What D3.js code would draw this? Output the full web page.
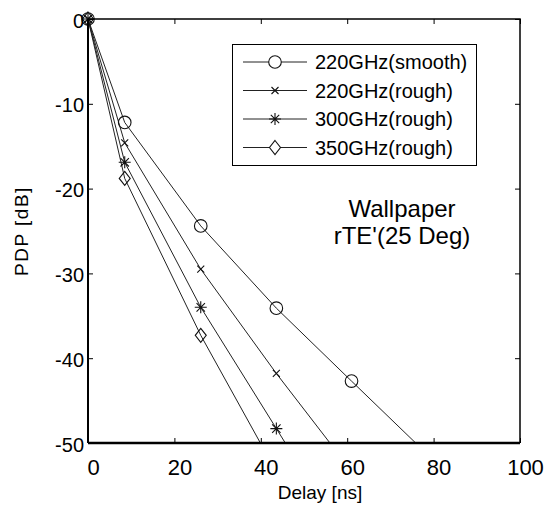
<!DOCTYPE html>
<html>
<head>
<meta charset="utf-8">
<script src="https://cdn.jsdelivr.net/npm/d3@7"></script>
<style>
  body { margin: 0; background: #fff; }
  text { font-family: "Liberation Sans", Arial, sans-serif; fill: #000; }
</style>
</head>
<body>
<script>
// delay [ns] of each sample, shared by all series
var delays = [0, 8.5, 26.1, 43.6, 61.0, 78.5];

// PDP [dB] per series (the last samples fall below -50 and get clipped)
var smooth220 = [0, -12.2, -24.4, -34.1, -42.7, -51.3];
var rough220 = [0, -14.6, -29.5, -41.8, -53.3, -64.8];
var rough300 = [0, -16.9, -34.0, -48.3, -62.6, -76.9];
var rough350 = [0, -18.8, -37.3, -53.4, -69.5, -85.6];

var seriesNames = ["220GHz(smooth)", "220GHz(rough)", "300GHz(rough)", "350GHz(rough)"];
var seriesMarkers = ["circle", "x", "star", "diamond"];
var xTicks = [0, 20, 40, 60, 80, 100];
var yTicks = [0, -10, -20, -30, -40, -50];

let w = 554;
let h = 507;
let m = {left: 88, right: 34, top: 19, bottom: 64};

let svg = d3.select("body")
    .append("svg")
    .attr("width", w)
    .attr("height", h);

let x = d3.scaleLinear().domain([0, 100]).range([m.left, w - m.right]);
let y = d3.scaleLinear().domain([-50, 0]).range([h - m.bottom, m.top]);

svg.append("clipPath").attr("id", "plot")
    .append("rect")
    .attr("x", x(0)).attr("y", y(0))
    .attr("width", x(100) - x(0)).attr("height", y(-50) - y(0));

// marker shapes, drawn as paths around (0,0)
function markerPath(kind) {
    if (kind == "circle") return d3.arc()({innerRadius: 0, outerRadius: 6.3, startAngle: 0, endAngle: 2 * Math.PI});
    if (kind == "x") return "M-3.5,-3.5L3.5,3.5M-3.5,3.5L3.5,-3.5";
    if (kind == "star") return "M-6,0L6,0M0,-6L0,6M-4.2,-4.2L4.2,4.2M-4.2,4.2L4.2,-4.2";
    return "M0,-7L5.5,0L0,7L-5.5,0Z";
}

let series = [smooth220, rough220, rough300, rough350].map(function(vals, i) {
    return {
        name: seriesNames[i],
        marker: seriesMarkers[i],
        points: vals.map(function(v, j) { return [delays[j], v]; })
    };
});

let line = d3.line()
    .x(function(d) { return x(d[0]); })
    .y(function(d) { return y(d[1]); });

svg.append("g").attr("clip-path", "url(#plot)")
    .selectAll("path")
    .data(series)
    .enter()
    .append("path")
    .attr("d", function(d) { return line(d.points); })
    .attr("fill", "none")
    .attr("stroke", "#222")
    .attr("stroke-width", 1);

series.forEach(function(s) {
    svg.append("g")
        .selectAll("path")
        .data(s.points.filter(function(d) { return d[1] >= -50; }))
        .enter()
        .append("path")
        .attr("transform", function(d) { return "translate(" + x(d[0]) + "," + y(d[1]) + ")"; })
        .attr("d", markerPath(s.marker))
        .attr("fill", "none")
        .attr("stroke", "#111")
        .attr("stroke-width", 1.1);
});

// plain hyphen for negatives, as in the original
let plain = function(d) { return String(d); };

// axes box with inward ticks
let xAxis = svg.append("g")
    .attr("transform", "translate(0," + y(-50) + ")")
    .call(d3.axisBottom(x).tickValues(xTicks).tickFormat(plain).tickSize(-5).tickPadding(12).tickSizeOuter(0));
xAxis.selectAll("text").attr("font-size", "22px").attr("dx", "5px").attr("dy", "0.9em");

let yAxis = svg.append("g")
    .attr("transform", "translate(" + x(0) + ",0)")
    .call(d3.axisLeft(y).tickValues(yTicks).tickFormat(plain).tickSize(-5).tickPadding(4).tickSizeOuter(0));
yAxis.selectAll("text").attr("font-size", "20px").attr("dy", "0.4em");

svg.append("g")
    .attr("transform", "translate(0," + y(0) + ")")
    .call(d3.axisTop(x).tickValues(xTicks).tickSize(-5).tickFormat("").tickSizeOuter(0));
svg.append("g")
    .attr("transform", "translate(" + x(100) + ",0)")
    .call(d3.axisRight(y).tickValues(yTicks).tickSize(-5).tickFormat("").tickSizeOuter(0));

svg.selectAll(".domain").remove();
svg.selectAll(".tick line").attr("stroke", "#000").attr("stroke-width", 1);

svg.append("path")
    .attr("d", "M" + x(0) + "," + y(-50) + "V" + y(0))
    .attr("stroke", "#000").attr("stroke-width", 2);
svg.append("path")
    .attr("d", "M" + x(0) + "," + y(-50) + "H" + x(100))
    .attr("stroke", "#000").attr("stroke-width", 2.5);
svg.append("path")
    .attr("d", "M" + x(0) + "," + y(0) + "H" + x(100) + "V" + y(-50))
    .attr("fill", "none").attr("stroke", "#000").attr("stroke-width", 1.5);

// axis titles
svg.append("text")
    .attr("x", 320).attr("y", 499)
    .attr("text-anchor", "middle")
    .attr("font-size", "19px")
    .text("Delay [ns]");

svg.append("text")
    .attr("transform", "translate(28," + y(-25) + ") rotate(-90)")
    .attr("text-anchor", "middle")
    .attr("font-size", "19px")
    .attr("letter-spacing", "1.5px")
    .text("PDP [dB]");

// annotation
svg.append("text")
    .attr("x", 402).attr("y", 217)
    .attr("text-anchor", "middle")
    .attr("font-size", "24px")
    .text("Wallpaper");
svg.append("text")
    .attr("x", 402).attr("y", 244)
    .attr("text-anchor", "middle")
    .attr("font-size", "24px")
    .text("rTE'(25 Deg)");

// legend
let legend = svg.append("g");
legend.append("rect")
    .attr("x", 232.5).attr("y", 44.5)
    .attr("width", 244).attr("height", 121)
    .attr("fill", "#fff").attr("stroke", "#000").attr("stroke-width", 1);

let rows = legend.selectAll("g.row")
    .data(series)
    .enter()
    .append("g")
    .attr("class", "row")
    .attr("transform", function(d, i) { return "translate(0," + (62 + i * 28.5) + ")"; });

rows.append("path")
    .attr("d", "M243,0H307")
    .attr("stroke", "#222").attr("stroke-width", 1);
rows.append("path")
    .attr("transform", "translate(275,0)")
    .attr("d", function(d) { return markerPath(d.marker); })
    .attr("fill", "#fff")
    .attr("stroke", "#111").attr("stroke-width", 1.1);
rows.append("text")
    .attr("x", 315).attr("y", 7)
    .attr("font-size", "20px")
    .text(function(d) { return d.name; });
</script>
</body>
</html>
